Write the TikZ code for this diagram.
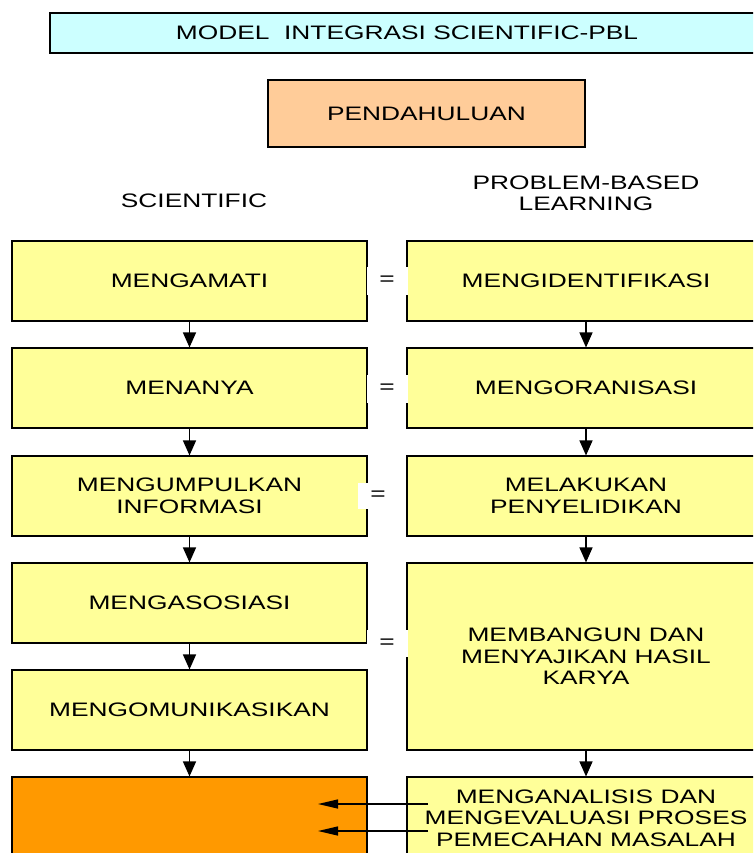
\documentclass[tikz,border=0pt]{standalone}
\usepackage{fontspec}
\setmainfont{Liberation Sans}[FakeStretch=1.35]
\usetikzlibrary{arrows.meta}
\definecolor{cyanbox}{HTML}{CCFFFF}
\definecolor{peachbox}{HTML}{FFCC99}
\definecolor{yelbox}{HTML}{FFFF99}
\definecolor{orgbox}{HTML}{FF9900}
\begin{document}
\begin{tikzpicture}[x=1pt,y=-1pt,
  txt/.style={inner sep=0pt, align=center, font=\fontsize{19.5}{21.5}\selectfont},
  box/.style={txt, draw=black, line width=1.1pt},
  lbox/.style={box, fill=yelbox, minimum width=355pt, minimum height=80pt},
  rbox/.style={box, fill=yelbox, minimum width=358pt, minimum height=80pt},
  eqbox/.style={txt, fill=white, minimum width=41pt, minimum height=28pt},
  varr/.style={-{Triangle[length=15pt,width=13pt]}, line width=1.3pt},
  harr/.style={-{Triangle[length=20pt,width=9pt]}, line width=1.3pt}]
\useasboundingbox (0,0) rectangle (753,853);
\clip (0,0) rectangle (753,853);
\fill[white] (0,0) rectangle (753,853);

\node[box, fill=cyanbox, minimum width=714pt, minimum height=40pt] (title) at (407,33) {MODEL\ \ INTEGRASI SCIENTIFIC-PBL};
\node[box, fill=peachbox, minimum width=317pt, minimum height=67pt] (pend) at (426.5,113.5) {PENDAHULUAN};

\node[txt] (sci) at (194,201) {SCIENTIFIC};
\node[txt] (pbl) at (586,193.5) {PROBLEM-BASED\\LEARNING};

\node[lbox] (L1) at (189.5,281) {MENGAMATI};
\node[lbox] (L2) at (189.5,388) {MENANYA};
\node[lbox] (L3) at (189.5,496) {MENGUMPULKAN\\INFORMASI};
\node[lbox] (L4) at (189.5,603) {MENGASOSIASI};
\node[lbox] (L5) at (189.5,710) {MENGOMUNIKASIKAN};
\node[lbox, fill=orgbox, minimum height=82pt] (L6) at (189.5,818) {};

\node[rbox] (R1) at (586,281) {MENGIDENTIFIKASI};
\node[rbox] (R2) at (586,388) {MENGORANISASI};
\node[rbox] (R3) at (586,496) {MELAKUKAN\\PENYELIDIKAN};
\node[rbox, minimum height=187pt] (R4) at (586,656.5) {MEMBANGUN DAN\\MENYAJIKAN HASIL\\KARYA};
\node[rbox, minimum height=82pt] (R5) at (586,818) {MENGANALISIS DAN\\MENGEVALUASI PROSES\\PEMECAHAN MASALAH};

\node[eqbox] (e1) at (387,281) {=};
\node[eqbox] (e2) at (387,389) {=};
\node[eqbox, minimum width=40pt, minimum height=26pt] (e3) at (378,496) {=};
\node[eqbox, minimum height=27pt] (e4) at (387,643.5) {=};

\draw[varr] (L1) -- (L2);
\draw[varr] (L2) -- (L3);
\draw[varr] (L3) -- (L4);
\draw[varr] (L4) -- (L5);
\draw[varr] (L5) -- (L6);
\draw[varr] (R1) -- (R2);
\draw[varr] (R2) -- (R3);
\draw[varr] (R3) -- (R4);
\draw[varr] (R4) -- (R5);

\coordinate (b1s) at (428,804);
\coordinate (b1e) at (318,804);
\coordinate (b2s) at (428,831);
\coordinate (b2e) at (318,831);
\draw[harr] (b1s) -- (b1e);
\draw[harr] (b2s) -- (b2e);
\end{tikzpicture}
\end{document}
